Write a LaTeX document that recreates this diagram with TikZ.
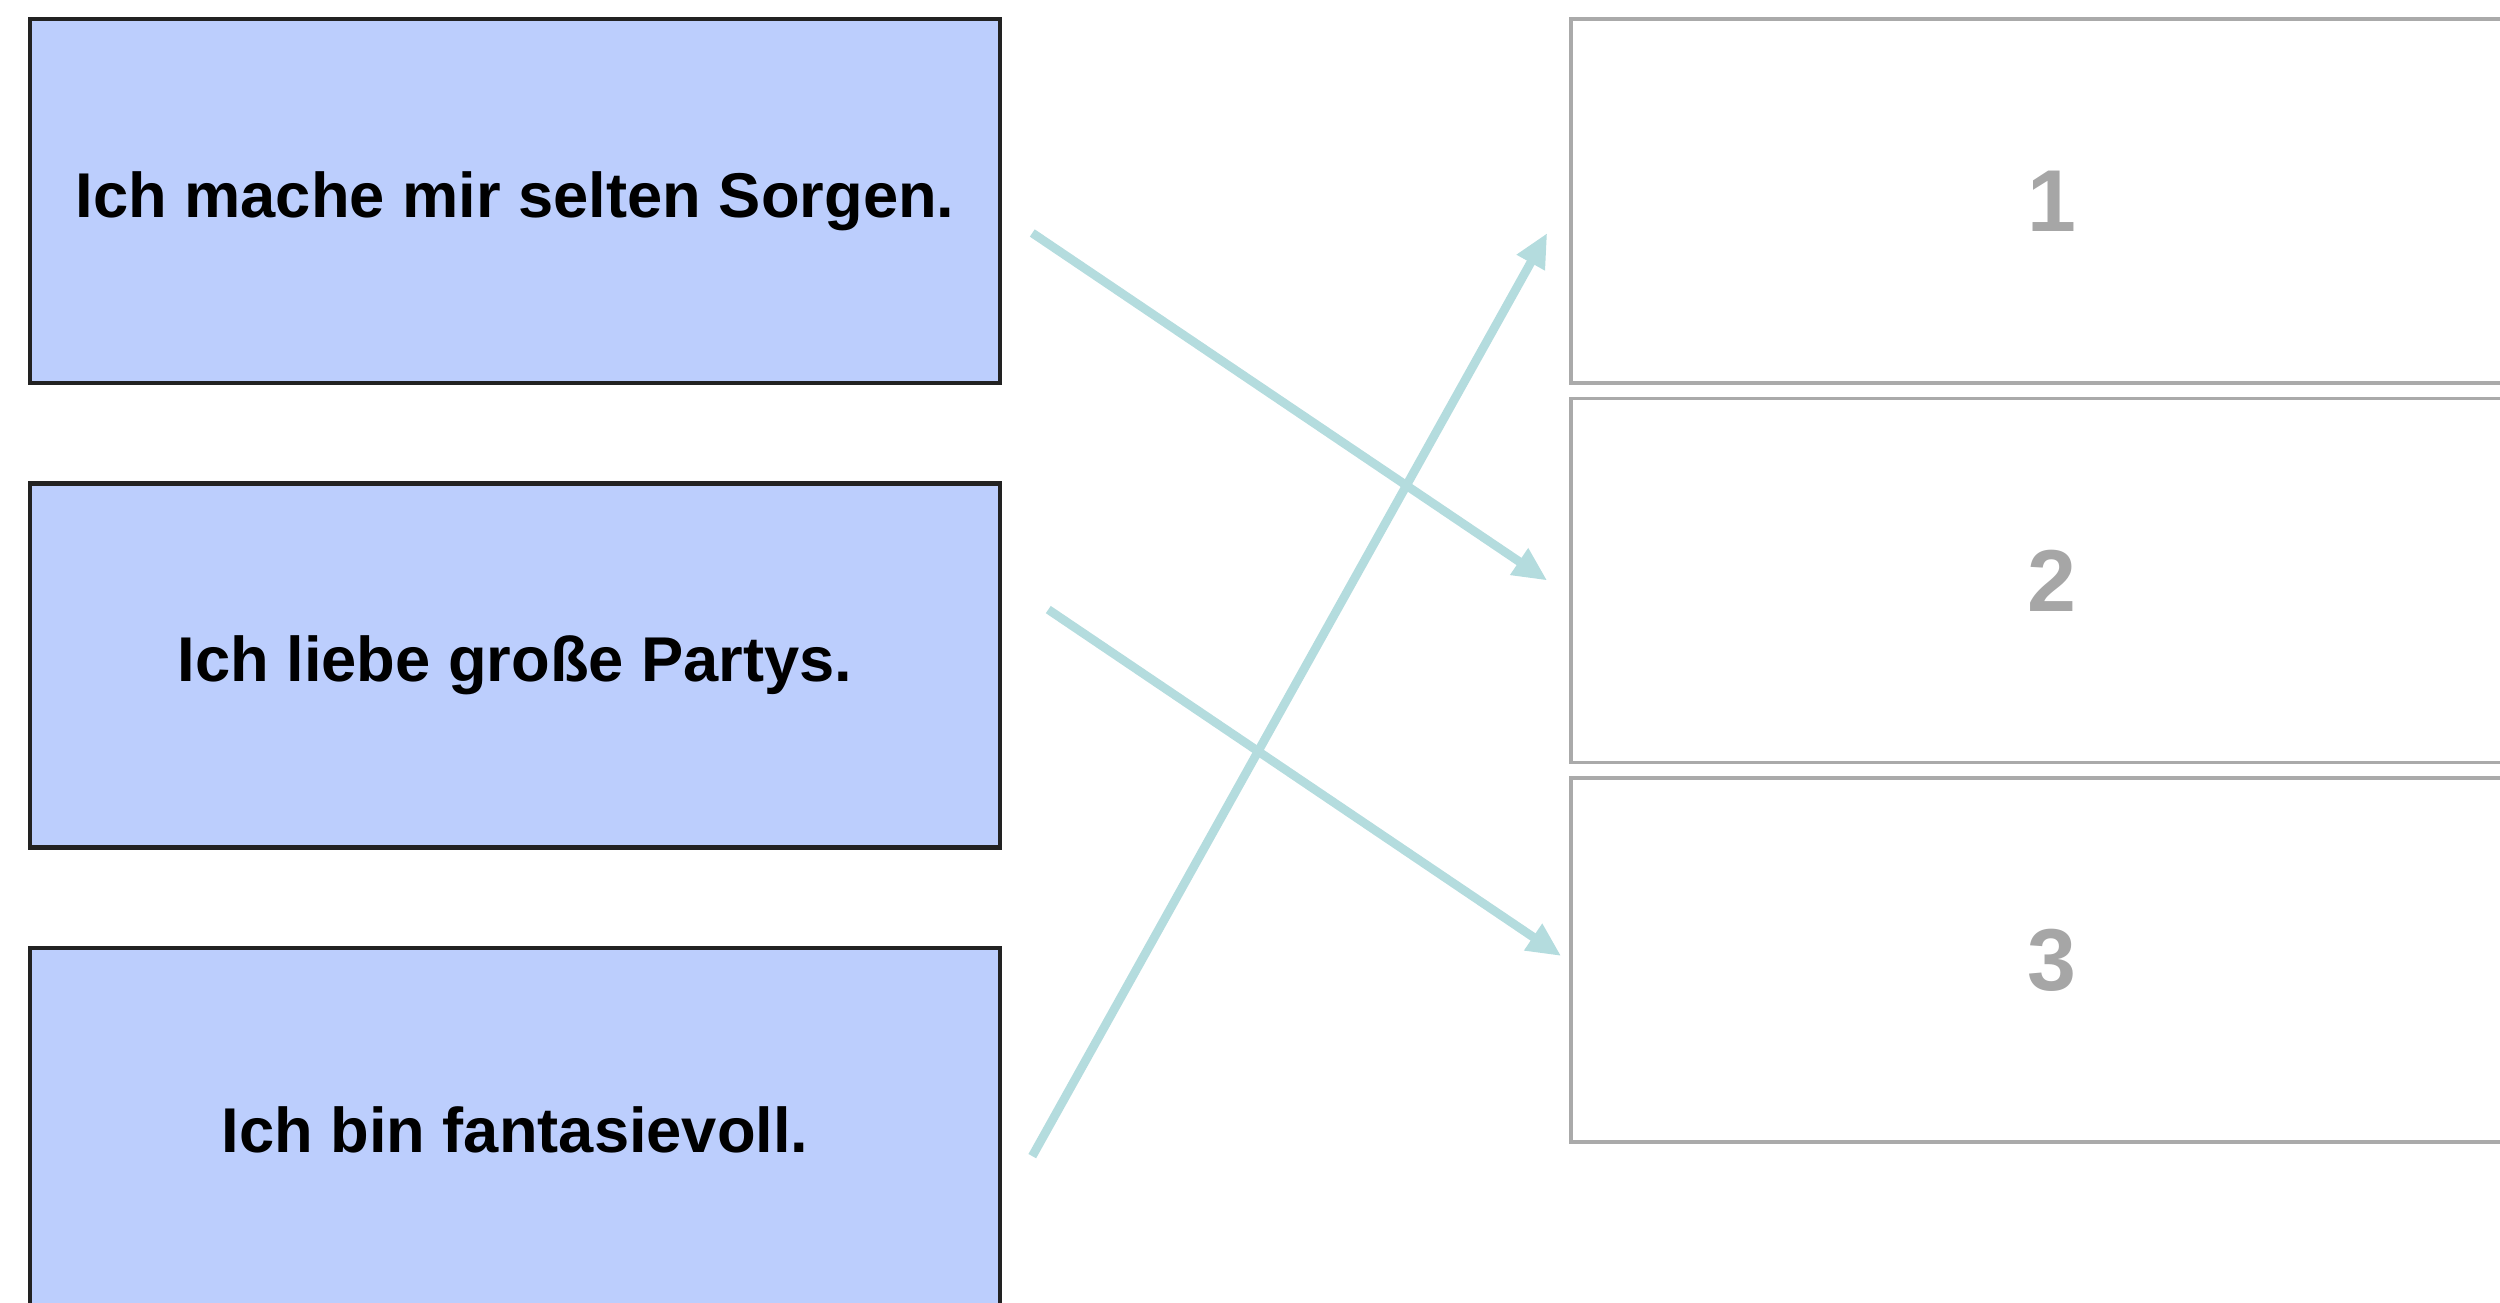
\documentclass[tikz,border=0pt]{standalone}
\usepackage{fontspec}
\setmainfont{Liberation Sans}
\usepackage{xcolor}
\usepackage{tikz}
\usetikzlibrary{shapes,arrows,positioning,calc,arrows.meta}
\definecolor{qfill}{HTML}{BCCEFD}
\definecolor{qline}{HTML}{222222}
\definecolor{aline}{HTML}{AAAAAA}
\definecolor{anum}{HTML}{A6A6A6}
\definecolor{link}{HTML}{B4DCDE}
\begin{document}
\begin{tikzpicture}[
    qbox/.style={draw=qline, fill=qfill, line width=1.3pt, rectangle, minimum width=9.7cm, minimum height=3.64cm, font=\fontsize{18}{21}\selectfont\bfseries},
    abox/.style={draw=aline, line width=1pt, rectangle, minimum width=9.62cm, minimum height=3.64cm, text=anum, font=\fontsize{25}{29}\selectfont\bfseries},
    match/.style={draw=link, line width=2.5pt, -{Triangle[length=0.34cm,width=0.3cm]}}
]
    \useasboundingbox (0,0) rectangle (25,-13.03);
    \node[qbox] (q1) at (5.15,-2.01) {Ich mache mir selten Sorgen.};
    \node[qbox, below=0.96cm of q1] (q2) {Ich liebe große Partys.};
    \node[qbox, below=0.96cm of q2] (q3) {Ich bin fantasievoll.};
    \node[abox] (a1) at (20.52,-2.01) {1};
    \node[abox, below=0.12cm of a1] (a2) {2};
    \node[abox, below=0.12cm of a2] (a3) {3};
    \draw[match] ($(q1.east)+(0.3,-0.32)$) -- ($(a2.west)+(-0.22,0.0)$);
    \draw[match] ($(q2.east)+(0.46,0.56)$) -- ($(a3.west)+(-0.08,0.04)$);
    \draw[match] ($(q3.east)+(0.3,-0.26)$) -- ($(a1.west)+(-0.22,-0.32)$);
\end{tikzpicture}
\end{document}
